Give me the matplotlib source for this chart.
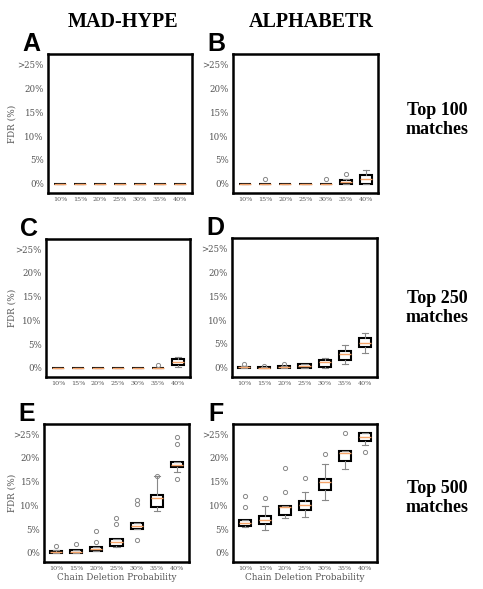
import matplotlib
matplotlib.use('Agg')
import matplotlib.pyplot as plt
from matplotlib import font_manager

probs = ['10%', '15%', '20%', '25%', '30%', '35%', '40%']
ytick_vals = [0, 5, 10, 15, 20, 25]
ytick_labels = ['0%', '5%', '10%', '15%', '20%', '>25%']

# FDR (%) box statistics per deletion probability
# A: MAD-HYPE, top 100
A_lo = [0, 0, 0, 0, 0, 0, 0]
A_q1 = [0, 0, 0, 0, 0, 0, 0]
A_med = [0, 0, 0, 0, 0, 0, 0]
A_q3 = [0, 0, 0, 0, 0, 0, 0]
A_hi = [0, 0, 0, 0, 0, 0, 0]
A_fl = [[], [], [], [], [], [], []]
# B: ALPHABETR, top 100
B_lo = [0, 0, 0, 0, 0, 0, 0]
B_q1 = [0, 0, 0, 0, 0, 0, 0]
B_med = [0, 0, 0, 0, 0, 0.3, 1.05]
B_q3 = [0, 0, 0, 0, 0, 0.85, 1.8]
B_hi = [0, 0, 0, 0, 0, 1.0, 3.0]
B_fl = [[], [1.0], [], [], [1.0], [2.0], []]
# C: MAD-HYPE, top 250
C_lo = [0, 0, 0, 0, 0, 0, 0.1]
C_q1 = [0, 0, 0, 0, 0, 0, 0.55]
C_med = [0, 0, 0, 0, 0, 0, 1.2]
C_q3 = [0, 0, 0, 0, 0, 0, 1.9]
C_hi = [0, 0, 0, 0, 0, 0, 2.4]
C_fl = [[], [], [], [], [], [0.55], []]
# D: ALPHABETR, top 250
D_lo = [0, 0, 0, 0, 0, 0.85, 3.15]
D_q1 = [0, 0, 0, 0, 0.1, 1.7, 4.3]
D_med = [0.1, 0.05, 0.2, 0.4, 1.2, 2.9, 5.25]
D_q3 = [0.2, 0.1, 0.35, 0.85, 1.7, 3.5, 6.3]
D_hi = [0.3, 0.1, 0.5, 0.85, 2.1, 4.8, 7.3]
D_fl = [[0.85], [0.5], [0.85], [], [], [], []]
# E: MAD-HYPE, top 500
E_lo = [0, 0, 0.4, 1.2, 5.0, 8.75, 17.1]
E_q1 = [0, 0, 0.5, 1.55, 5.1, 9.7, 18.0]
E_med = [0.2, 0.25, 0.9, 2.25, 5.75, 11.6, 18.55]
E_q3 = [0.5, 0.55, 1.25, 2.95, 6.3, 12.3, 19.05]
E_hi = [0.6, 0.7, 1.3, 3.0, 6.3, 16.2, 19.05]
E_fl = [[1.55], [1.95], [2.3, 4.55], [6.0, 7.35], [2.8, 10.35, 11.25], [16.2], [15.5, 22.9, 24.5]]
# F: ALPHABETR, top 500
F_lo = [5.4, 4.9, 7.35, 7.5, 11.05, 17.65, 22.75]
F_q1 = [5.6, 6.1, 7.9, 9.05, 13.3, 19.45, 23.65]
F_med = [6.3, 6.85, 9.7, 10.1, 14.85, 21.1, 24.35]
F_q3 = [7.0, 7.7, 9.95, 10.85, 15.6, 21.55, 25.2]
F_hi = [7.0, 9.95, 9.95, 12.75, 18.75, 21.55, 25.2]
F_fl = [[9.65, 11.9], [11.6], [12.8, 17.9], [15.75], [20.8], [25.2], [21.35]]

panels = {
    'A': (A_lo, A_q1, A_med, A_q3, A_hi, A_fl),
    'B': (B_lo, B_q1, B_med, B_q3, B_hi, B_fl),
    'C': (C_lo, C_q1, C_med, C_q3, C_hi, C_fl),
    'D': (D_lo, D_q1, D_med, D_q3, D_hi, D_fl),
    'E': (E_lo, E_q1, E_med, E_q3, E_hi, E_fl),
    'F': (F_lo, F_q1, F_med, F_q3, F_hi, F_fl),
}

W, H = 483, 589
# axes rectangles in pixels: left, top, right, bottom
rects = {
    'A': (48, 54, 192, 193), 'B': (233, 54, 378, 193),
    'C': (46, 239, 190, 377), 'D': (232, 238, 377, 377),
    'E': (44, 424, 189, 562), 'F': (233, 424, 377, 562),
}

installed = {f.name for f in font_manager.fontManager.ttflist}
serif = 'DejaVu Serif Condensed' if 'DejaVu Serif Condensed' in installed else 'DejaVu Serif'
cond = serif.endswith('Condensed')
ysz = 6.8 if cond else 6.2
xsz = 5.0 if cond else 4.6
lsz = 7.0 if cond else 6.4
grey = '#555555'

fig = plt.figure(figsize=(W / 100, H / 100), dpi=100)

for key, (lo, q1, med, q3, hi, fl) in panels.items():
    l, t, r, b = rects[key]
    ax = fig.add_axes([l / W, 1 - b / H, (r - l) / W, (b - t) / H])
    stats = [dict(whislo=lo[i], q1=q1[i], med=med[i], q3=q3[i], whishi=hi[i],
                  fliers=fl[i]) for i in range(len(probs))]
    ax.bxp(stats, positions=range(1, len(probs) + 1), widths=0.6,
           patch_artist=True,
           boxprops=dict(facecolor='white', edgecolor='black', linewidth=1.5),
           medianprops=dict(color='#f5a46a', linewidth=1.0),
           whiskerprops=dict(color='#888888', linewidth=0.8),
           capprops=dict(color='#888888', linewidth=0.8),
           flierprops=dict(marker='o', markersize=3, markerfacecolor='none',
                           markeredgecolor='#888888', markeredgewidth=0.7))
    ax.set_ylim(-1.9, 27.15)
    ax.set_xlim(0.4, len(probs) + 0.6)
    ax.set_yticks(ytick_vals)
    ax.set_yticklabels(ytick_labels, fontsize=ysz, family=serif, color=grey)
    ax.set_xticks(range(1, len(probs) + 1))
    ax.set_xticklabels(probs, fontsize=xsz, family=serif, color=grey)
    ax.tick_params(length=0, pad=3)
    for sp in ax.spines.values():
        sp.set_linewidth(1.8)
        sp.set_color('black')
    if key in ('A', 'C', 'E'):
        fig.text(12 / W, 1 - (t + b) / 2 / H, 'FDR (%)', fontsize=lsz, family=serif,
                 color=grey, rotation=90, ha='center', va='center')
    if key in ('E', 'F'):
        fig.text((l + r) / 2 / W, 1 - 578 / H, 'Chain Deletion Probability',
                 fontsize=lsz, family=serif, color=grey, ha='center', va='center')
    fig.text((l - 17) / W, 1 - (t - 3) / H, key, fontsize=18, fontweight='bold',
             family='Liberation Sans', ha='center', va='baseline')

fig.text(123.5 / W, 1 - 27 / H, 'MAD-HYPE', fontsize=14.5, fontweight='bold',
         family='Liberation Serif', ha='center', va='baseline')
fig.text(311 / W, 1 - 27 / H, 'ALPHABETR', fontsize=14.5, fontweight='bold',
         family='Liberation Serif', ha='center', va='baseline')

for yc, n in [(120, 100), (308, 250), (498, 500)]:
    fig.text(437 / W, 1 - yc / H, f'Top {n}\nmatches', fontsize=13,
             fontweight='bold', family='Liberation Serif', ha='center',
             va='center', linespacing=1.2)

fig.savefig('out.png', dpi=100, facecolor='white')
